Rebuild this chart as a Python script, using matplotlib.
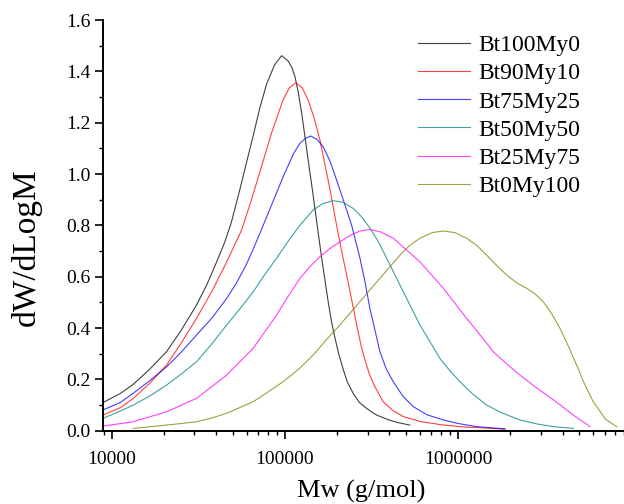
import matplotlib
matplotlib.use("Agg")
import numpy as np
import matplotlib.pyplot as plt
from matplotlib.ticker import LogLocator, MultipleLocator, FuncFormatter, NullFormatter

plt.rcParams["font.family"] = ["Liberation Serif", "DejaVu Serif"]

labels = ["Bt100My0", "Bt90My10", "Bt75My25", "Bt50My50", "Bt25My75", "Bt0My100"]
colors = ["#000000", "#ff0000", "#0000ff", "#008080", "#ff00ff", "#808000"]

# log10(Mw) and dW/dLogM
logmw_bt100 = [3.95, 4.05, 4.125, 4.22, 4.317, 4.40, 4.49, 4.55, 4.606, 4.65, 4.69, 4.74,
               4.78, 4.817, 4.856, 4.894, 4.94, 4.981, 5.019, 5.04, 5.058, 5.077, 5.096,
               5.134, 5.16, 5.183, 5.212, 5.25, 5.27, 5.289, 5.31, 5.336, 5.36, 5.394,
               5.43, 5.462, 5.50, 5.529, 5.60, 5.65, 5.721]
dw_bt100 = [0.110, 0.145, 0.181, 0.240, 0.308, 0.390, 0.490, 0.570, 0.658, 0.730, 0.810, 0.940,
            1.050, 1.150, 1.260, 1.350, 1.425, 1.461, 1.440, 1.415, 1.379, 1.318, 1.240,
            1.055, 0.930, 0.815, 0.672, 0.500, 0.420, 0.360, 0.300, 0.240, 0.190, 0.145,
            0.110, 0.092, 0.073, 0.061, 0.042, 0.032, 0.022]

logmw_bt90 = [3.95, 4.05, 4.125, 4.22, 4.317, 4.40, 4.49, 4.58, 4.664, 4.75, 4.80, 4.856,
              4.925, 4.99, 5.025, 5.063, 5.10, 5.134, 5.17, 5.202, 5.23, 5.26, 5.298,
              5.33, 5.356, 5.385, 5.414, 5.44, 5.462, 5.49, 5.52, 5.567, 5.62, 5.683,
              5.78, 5.914, 6.05, 6.202, 6.27]
dw_bt90 = [0.061, 0.090, 0.126, 0.185, 0.256, 0.340, 0.438, 0.545, 0.658, 0.782, 0.885, 1.010,
           1.165, 1.290, 1.335, 1.356, 1.335, 1.288, 1.215, 1.132, 1.040, 0.940, 0.800,
           0.690, 0.607, 0.510, 0.412, 0.330, 0.275, 0.215, 0.170, 0.113, 0.080, 0.055,
           0.036, 0.022, 0.014, 0.009, 0.006]

logmw_bt75 = [3.95, 4.05, 4.125, 4.22, 4.317, 4.40, 4.49, 4.58, 4.664, 4.72, 4.779, 4.825,
              4.875, 4.99, 5.05, 5.087, 5.12, 5.15, 5.185, 5.221, 5.26, 5.298, 5.356,
              5.385, 5.433, 5.462, 5.49, 5.52, 5.548, 5.585, 5.625, 5.68, 5.74, 5.82,
              5.914, 6.0, 6.106, 6.27]
dw_bt75 = [0.081, 0.110, 0.146, 0.195, 0.249, 0.305, 0.373, 0.440, 0.516, 0.575, 0.650, 0.720,
           0.801, 0.990, 1.080, 1.120, 1.140, 1.148, 1.135, 1.106, 1.050, 0.977, 0.860,
           0.800, 0.672, 0.580, 0.477, 0.390, 0.308, 0.240, 0.191, 0.135, 0.094, 0.062,
           0.042, 0.028, 0.016, 0.007]

logmw_bt50 = [3.95, 4.05, 4.125, 4.22, 4.317, 4.40, 4.49, 4.58, 4.664, 4.74, 4.817, 4.88,
              4.952, 5.02, 5.087, 5.163, 5.22, 5.279, 5.335, 5.394, 5.44, 5.49, 5.54,
              5.587, 5.683, 5.779, 5.894, 5.95, 6.01, 6.08, 6.164, 6.25, 6.356, 6.45,
              6.548, 6.664]
dw_bt50 = [0.048, 0.077, 0.100, 0.135, 0.178, 0.220, 0.269, 0.340, 0.412, 0.475, 0.541, 0.605,
           0.672, 0.740, 0.801, 0.860, 0.885, 0.896, 0.890, 0.866, 0.835, 0.790, 0.735,
           0.672, 0.541, 0.412, 0.282, 0.235, 0.191, 0.145, 0.100, 0.070, 0.042, 0.027,
           0.016, 0.009]

logmw_bt25 = [3.95, 4.125, 4.317, 4.49, 4.664, 4.817, 4.952, 5.02, 5.087, 5.145, 5.202,
              5.26, 5.317, 5.38, 5.433, 5.49, 5.55, 5.625, 5.779, 5.914, 6.048, 6.13,
              6.202, 6.28, 6.356, 6.43, 6.51, 6.59, 6.664, 6.72, 6.76]
dw_bt25 = [0.018, 0.035, 0.074, 0.126, 0.217, 0.321, 0.451, 0.525, 0.594, 0.640, 0.678,
           0.710, 0.736, 0.762, 0.778, 0.784, 0.775, 0.750, 0.658, 0.555, 0.438, 0.370,
           0.308, 0.260, 0.217, 0.178, 0.139, 0.100, 0.061, 0.035, 0.016]

logmw_bt0 = [4.125, 4.20, 4.317, 4.40, 4.49, 4.58, 4.664, 4.817, 4.90, 4.99, 5.08, 5.163,
             5.24, 5.317, 5.433, 5.548, 5.664, 5.72, 5.779, 5.85, 5.914, 5.98, 6.048,
             6.11, 6.164, 6.22, 6.279, 6.34, 6.394, 6.44, 6.49, 6.54, 6.587, 6.635,
             6.683, 6.73, 6.779, 6.85, 6.914]
dw_bt0 = [0.009, 0.014, 0.022, 0.028, 0.035, 0.050, 0.068, 0.113, 0.150, 0.191, 0.240, 0.295,
          0.355, 0.412, 0.503, 0.594, 0.684, 0.722, 0.750, 0.772, 0.778, 0.772, 0.750,
          0.720, 0.684, 0.645, 0.607, 0.575, 0.555, 0.535, 0.503, 0.455, 0.399, 0.330,
          0.256, 0.180, 0.113, 0.045, 0.016]

logmw_all = [logmw_bt100, logmw_bt90, logmw_bt75, logmw_bt50, logmw_bt25, logmw_bt0]
dw_all = [dw_bt100, dw_bt90, dw_bt75, dw_bt50, dw_bt25, dw_bt0]

fig = plt.figure(figsize=(6.24, 5.04), dpi=100)
ax = fig.add_axes([0.1655, 0.1454, 0.8345, 0.8149])

for logmw, dw, lab, col in zip(logmw_all, dw_all, labels, colors):
  ax.plot(10 ** np.array(logmw), dw, color=col, lw=0.8, alpha=0.75, label=lab)

ax.set_xscale("log")
ax.set_xlim(8945, 9.05e6)
ax.set_ylim(0, 1.6)

ax.xaxis.set_major_locator(LogLocator(base=10, numticks=10))
ax.xaxis.set_minor_locator(LogLocator(base=10, subs=range(2, 10), numticks=100))
ax.xaxis.set_major_formatter(FuncFormatter(lambda v, p: f"{v:.0f}"))
ax.xaxis.set_minor_formatter(NullFormatter())
ax.yaxis.set_major_locator(MultipleLocator(0.2))
ax.yaxis.set_minor_locator(MultipleLocator(0.1))
ax.yaxis.set_major_formatter(FuncFormatter(lambda v, p: f"{v:.1f}"))

for side in ["top", "right"]:
  ax.spines[side].set_visible(False)
for side in ["left", "bottom"]:
  ax.spines[side].set_linewidth(1.4)

ax.tick_params(which="major", direction="out", length=5.5, width=1.2, labelsize=14)
ax.tick_params(which="minor", direction="out", length=3, width=1.0)
ax.tick_params(axis="x", which="major", pad=9)

ax.set_xlabel("Mw (g/mol)", fontsize=19)
ax.set_ylabel("dW/dLogM", fontsize=24)
ax.xaxis.label.set_va("center")
ax.yaxis.label.set_va("center")
ax.xaxis.set_label_coords(0.496, -0.147)
ax.yaxis.set_label_coords(-0.1485, 0.446)

leg = ax.legend(loc="upper left", bbox_to_anchor=(0.605, 0.964), frameon=False,
                fontsize=17, handlelength=2.2, handletextpad=0.34, labelspacing=0.28,
                borderpad=0, borderaxespad=0)

fig.savefig("out.png", dpi=100)
